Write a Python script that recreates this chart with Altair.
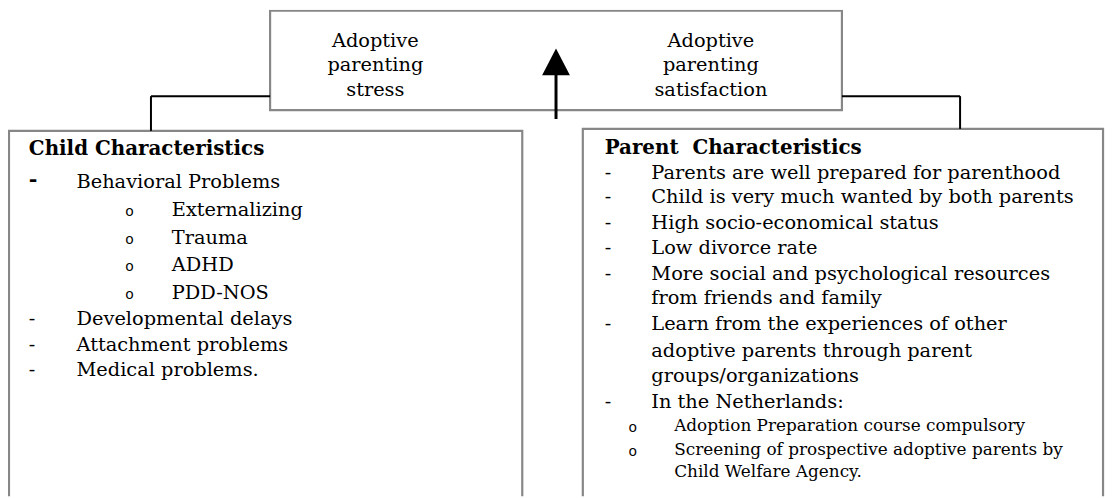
import altair as alt
import pandas as pd

FONT = "DejaVu Serif"

# ---- text content ----
top_left_lines = ["Adoptive", "parenting", "stress"]
top_right_lines = ["Adoptive", "parenting", "satisfaction"]
top_line_y = [40, 64, 89]

child_header = "Child Characteristics"
child_items = ["Behavioral Problems", "Developmental delays", "Attachment problems", "Medical problems."]
child_items_y = [182, 320, 346, 371]
child_sub = ["Externalizing", "Trauma", "ADHD", "PDD-NOS"]
child_sub_y = [210, 238, 265, 293]

parent_header = "Parent\u00a0 Characteristics"
parent_items = [
    "Parents are well prepared for parenthood",
    "Child is very much wanted by both parents",
    "High socio-economical status",
    "Low divorce rate",
    "More social and psychological resources",
    "from friends and family",
    "Learn from the experiences of other",
    "adoptive parents through parent",
    "groups/organizations",
    "In the Netherlands:",
]
parent_items_y = [172, 197, 223, 248, 274, 298, 325, 352, 377, 403]
parent_dash = [True, True, True, True, True, False, True, False, False, True]
parent_sub = ["Adoption Preparation course compulsory",
              "Screening of prospective adoptive parents by",
              "Child Welfare Agency."]
parent_sub_y = [427, 451, 474]
parent_sub_bullet = [True, True, False]

# ---- layout (pixel space of the picture) ----
X = alt.Scale(domain=[8, 1116], nice=False, zero=False)
Y = alt.Scale(domain=[8, 498], nice=False, zero=False, reverse=True)

boxes = pd.DataFrame({
    "x": [272, 9, 587], "x2": [848, 526, 1111],
    "y": [9, 130, 128], "y2": [109, 530, 530],
})
connectors = pd.DataFrame({
    "x": [152, 152, 848, 967], "x2": [272, 152, 967, 967],
    "y": [95, 95, 95, 95], "y2": [95, 130, 95, 128],
})
stem = pd.DataFrame({"x": [560], "y": [73], "y2": [118]})
head = pd.DataFrame({"x": [546, 560, 574], "y": [74, 47, 74], "yb": [74, 74, 74]})

def enc_xy(ch, **kw):
    return ch.encode(
        x=alt.X("x:Q", scale=X, axis=None),
        y=alt.Y("y:Q", scale=Y, axis=None),
        **kw,
    )

rects = enc_xy(
    alt.Chart(boxes).mark_rect(fill="white", stroke="#878787", strokeWidth=2.2, clip=True),
    x2="x2:Q", y2="y2:Q",
)
rules = enc_xy(
    alt.Chart(connectors).mark_rule(color="black", strokeWidth=2),
    x2="x2:Q", y2="y2:Q",
)
stem_l = enc_xy(alt.Chart(stem).mark_rule(color="black", strokeWidth=3), y2="y2:Q")
head_l = enc_xy(alt.Chart(head).mark_area(color="black"), y2="yb:Q")

# text tables
rows = []
for t, y in zip(top_left_lines, top_line_y):
    rows.append(dict(t=t, x=378, y=y, s="center"))
for t, y in zip(top_right_lines, top_line_y):
    rows.append(dict(t=t, x=716, y=y, s="center"))
rows.append(dict(t=child_header, x=29, y=148, s="head"))
rows.append(dict(t=parent_header, x=609, y=147, s="head"))
for i, (t, y) in enumerate(zip(child_items, child_items_y)):
    rows.append(dict(t=t, x=77, y=y, s="main"))
    rows.append(dict(t="-", x=29, y=y - (2 if i == 0 else 0), s="bigdash" if i == 0 else "main"))
for t, y in zip(child_sub, child_sub_y):
    rows.append(dict(t=t, x=173, y=y, s="main"))
    rows.append(dict(t="o", x=126, y=y + 2, s="bullet"))
for t, y, d in zip(parent_items, parent_items_y, parent_dash):
    rows.append(dict(t=t, x=656, y=y, s="main"))
    if d:
        rows.append(dict(t="-", x=609, y=y, s="main"))
for t, y, b in zip(parent_sub, parent_sub_y, parent_sub_bullet):
    rows.append(dict(t=t, x=679, y=y, s="sub"))
    if b:
        rows.append(dict(t="o", x=633, y=y + 2, s="bullet"))
texts = pd.DataFrame(rows)

def text_layer(style, font=FONT, **mk):
    return enc_xy(
        alt.Chart(texts).transform_filter(alt.datum.s == style).mark_text(
            font=font, color="black", baseline="middle", **mk),
        text="t:N",
    )

t_center = text_layer("center", align="center", fontSize=19.5)
t_head = text_layer("head", align="left", fontSize=20, fontWeight="bold")
t_main = text_layer("main", align="left", fontSize=19.5)
t_bigdash = text_layer("bigdash", align="left", fontSize=21, fontWeight="bold")
t_sub = text_layer("sub", align="left", fontSize=17)
t_bullet = text_layer("bullet", font="DejaVu Sans", align="left", fontSize=14)

chart = alt.layer(
    rects, rules, stem_l, head_l,
    t_center, t_head, t_main, t_bigdash, t_sub, t_bullet,
).properties(
    width=1108, height=490, padding=0,
    autosize=alt.AutoSizeParams(type="none"),
).configure_view(stroke=None)

chart.save("out.html", embed_options={"renderer": "svg", "actions": False})
